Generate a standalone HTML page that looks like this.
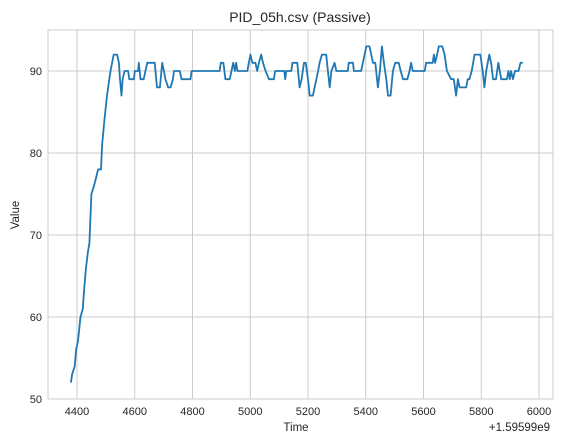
<!DOCTYPE html>
<html><head><meta charset="utf-8"><style>
body{margin:0;background:#fff;}
svg{display:block;font-family:"Liberation Sans",Arial,sans-serif;}
</style></head><body>
<svg id="chart" width="562" height="444">
<rect x="0" y="0" width="562" height="444" fill="#fff"/>
<g id="grid"></g>
<rect x="48" y="30" width="505" height="369" fill="none" stroke="#cccccc" stroke-width="1"/>
<g id="ticks"></g>
<path id="line" fill="none" stroke="#1f77b4" stroke-width="1.8" stroke-linejoin="round"/>
<text x="300" y="22" text-anchor="middle" font-size="14" fill="#262626">PID_05h.csv (Passive)</text>
<text x="296" y="431" text-anchor="middle" font-size="11.5" fill="#262626">Time</text>
<text x="550" y="431" text-anchor="end" font-size="11.5" fill="#262626">+1.59599e9</text>
<text transform="translate(19,215) rotate(-90)" text-anchor="middle" font-size="11.5" fill="#262626">Value</text>
</svg>
<script>
const xTicks=[4400,4600,4800,5000,5200,5400,5600,5800,6000];
const yTicks=[50,60,70,80,90];
const times=[4379,4383,4392,4397,4403,4412,4420,4424,4431,4438,4443,4450,4459,4466,4473,4483,4487,4495,4504,4512,4516,4527,4539,4545,4549,4554,4558,4565,4577,4581,4597,4600,4612,4614,4620,4631,4643,4669,4677,4687,4695,4701,4706,4716,4724,4732,4736,4756,4762,4793,4797,4894,4898,4907,4914,4929,4935,4941,4947,4951,4956,4990,4995,5001,5007,5018,5024,5030,5038,5044,5053,5065,5082,5086,5118,5121,5125,5142,5146,5163,5171,5178,5186,5192,
5200,5206,5217,5223,5229,5235,5240,5248,5263,5269,5275,5281,5292,5298,5338,5341,5356,5359,5384,5390,5396,5402,5413,5419,5425,5433,5442,5449,5456,5463,5471,5477,5486,5494,5502,5514,5521,5529,5544,5552,5557,5563,5604,5609,5632,5636,5640,5647,5653,5665,5673,5681,5696,5705,5713,5719,5725,5748,5753,5759,5767,5777,5797,5805,5811,5817,5828,5834,5841,5851,5859,5869,5889,5894,5899,5903,5910,5917,5929,5936,5944];
const values=[52,53,54,56,57,60,61,63,66,68,69,75,76,77,78,78,81,84,87,89,90,92,92,91,89,87,89,90,90,89,89,90,90,91,89,89,91,91,88,88,91,90,89,88,88,89,90,90,89,89,90,90,91,91,89,89,90,91,90,91,90,90,91,92,91,91,90,91,92,91,90,89,89,90,90,89,90,90,91,91,88,89,91,91,
89,87,87,88,89,90,91,92,92,90,88,90,91,90,90,91,91,90,90,91,92,93,93,92,91,91,88,90,93,91,89,87,87,90,91,91,90,89,89,90,91,90,90,91,91,92,91,92,93,93,92,90,89,89,87,89,88,88,89,89,90,92,92,90,88,90,92,91,89,89,91,89,89,90,89,90,89,90,90,91,91];
const X=t=>77+(t-4400)*(539-77)/1600;
const Y=v=>399-(v-50)*(399-30)/45;
const ns='http://www.w3.org/2000/svg';
const grid=document.getElementById('grid'), ticks=document.getElementById('ticks');
xTicks.forEach(t=>{
  const l=document.createElementNS(ns,'line');
  l.setAttribute('x1',X(t));l.setAttribute('x2',X(t));l.setAttribute('y1',30);l.setAttribute('y2',399);
  l.setAttribute('stroke','#cccccc');
  
  
  grid.appendChild(l);
  const tx=document.createElementNS(ns,'text');
  tx.setAttribute('x',X(t));tx.setAttribute('y',415);tx.setAttribute('text-anchor','middle');
  tx.setAttribute('font-size','11');tx.setAttribute('fill','#262626');tx.textContent=t;
  
  
  ticks.appendChild(tx);
});
yTicks.forEach(v=>{
  const l=document.createElementNS(ns,'line');
  l.setAttribute('x1',48);l.setAttribute('x2',553);l.setAttribute('y1',Y(v));l.setAttribute('y2',Y(v));
  l.setAttribute('stroke','#cccccc');
  
  
  grid.appendChild(l);
  const tx=document.createElementNS(ns,'text');
  tx.setAttribute('x',42);tx.setAttribute('y',Y(v)+4);tx.setAttribute('text-anchor','end');
  tx.setAttribute('font-size','11');tx.setAttribute('fill','#262626');tx.textContent=v;
  
  
  ticks.appendChild(tx);
});
document.getElementById('line').setAttribute('d',times.map((t,i)=>(i?'L':'M')+X(t).toFixed(1)+','+Y(values[i]).toFixed(1)).join(''));
</script>
</body></html>
